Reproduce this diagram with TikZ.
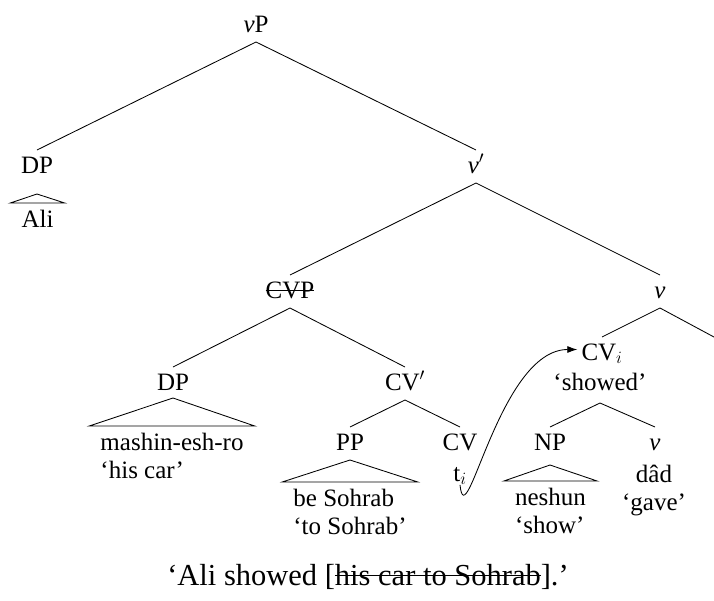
\documentclass[tikz,border=0pt]{standalone}
\usepackage{fontspec}
\setmainfont{Liberation Serif}
\usetikzlibrary{arrows.meta}
\newcommand{\strikeout}[1]{\setbox0\hbox{#1}\rlap{\rule[0.29em]{\wd0}{0.9pt}}\box0}

\begin{document}
\begin{tikzpicture}[x=1pt,y=-1pt,
  every node/.style={font=\fontsize{25}{28}\selectfont},
  cat/.style={anchor=base,inner xsep=4pt,inner ysep=0pt,outer ysep=6pt,text height=17pt,text depth=4pt},
  word/.style={anchor=base,inner sep=0pt,align=center},
  leaf/.style={anchor=north,align=left,inner xsep=11pt,inner ysep=7pt},
  branch/.style={line width=0.85pt},
  move/.style={line width=0.85pt,-{Latex[length=10pt,width=7pt]}}]
\useasboundingbox (0,0) rectangle (714,600);

\node[cat] (vP) at (256,32) {\textit{v}P};
\node[cat] (DPa) at (37,173) {DP};
\node[cat] (vbar) at (476,173) {\textit{v}$'$};
\node[cat] (CVP) at (290,298) {\strikeout{CVP}};
\node[cat] (va) at (660,298) {\textit{v}};
\node[cat] (DPb) at (173,390) {DP};
\node[cat] (CVbar) at (405,390) {CV$'$};
\node[cat] (CVi) at (602,360) {CV$_i$};
\node[cat] (showed) at (600,390) {‘showed’};
\node[cat] (PP) at (350,450) {PP};
\node[cat] (CVt) at (460,450) {CV};
\node[cat] (NP) at (550,450) {NP};
\node[cat] (vb) at (655,450) {\textit{v}};
\coordinate (vc) at (740,351);

\node[leaf] (Ali) at (37.5,203) {Ali};
\node[leaf] (mashin) at (172,426) {mashin-esh-ro\\‘his car’};
\node[leaf] (sohrab) at (350,482) {be Sohrab\\‘to Sohrab’};
\node[leaf] (neshun) at (550.5,481) {neshun\\‘show’};
\node[word] (ti) at (460,481) {t$_i$};
\node[word,anchor=north] (dad) at (654,465) {dâd\\‘gave’};

\draw[branch] (vP.south) -- (DPa.north);
\draw[branch] (vP.south) -- (vbar.north);
\draw[branch] (vbar.south) -- (CVP.north);
\draw[branch] (vbar.south) -- (va.north);
\draw[branch] (CVP.south) -- (DPb.north);
\draw[branch] (CVP.south) -- (CVbar.north);
\draw[branch] (va.south) -- (CVi.north);
\draw[branch] (va.south) -- (vc);
\draw[branch] (CVbar.south) -- (PP.north);
\draw[branch] (CVbar.south) -- (CVt.north);
\draw[branch] ([yshift=-3pt]showed.south) -- (NP.north);
\draw[branch] ([yshift=-3pt]showed.south) -- (vb.north);

\draw[branch] ([yshift=-11pt]DPa.south) -- (Ali.north west) -- (Ali.north east) -- cycle;
\draw[branch] ([yshift=2pt]DPb.south) -- (mashin.north west) -- (mashin.north east) -- cycle;
\draw[branch] (PP.south) -- (sohrab.north west) -- (sohrab.north east) -- cycle;
\draw[branch] ([yshift=-5pt]NP.south) -- (neshun.north west) -- (neshun.north east) -- cycle;

\draw[move] (ti.south) .. controls +(6,56) and +(-78,0) .. ([yshift=4pt]CVi.west);

\node[word,font=\fontsize{30.5}{36}\selectfont] (caption) at (368,585) {‘Ali showed [\strikeout{his car to Sohrab}].’};
\end{tikzpicture}
\end{document}
